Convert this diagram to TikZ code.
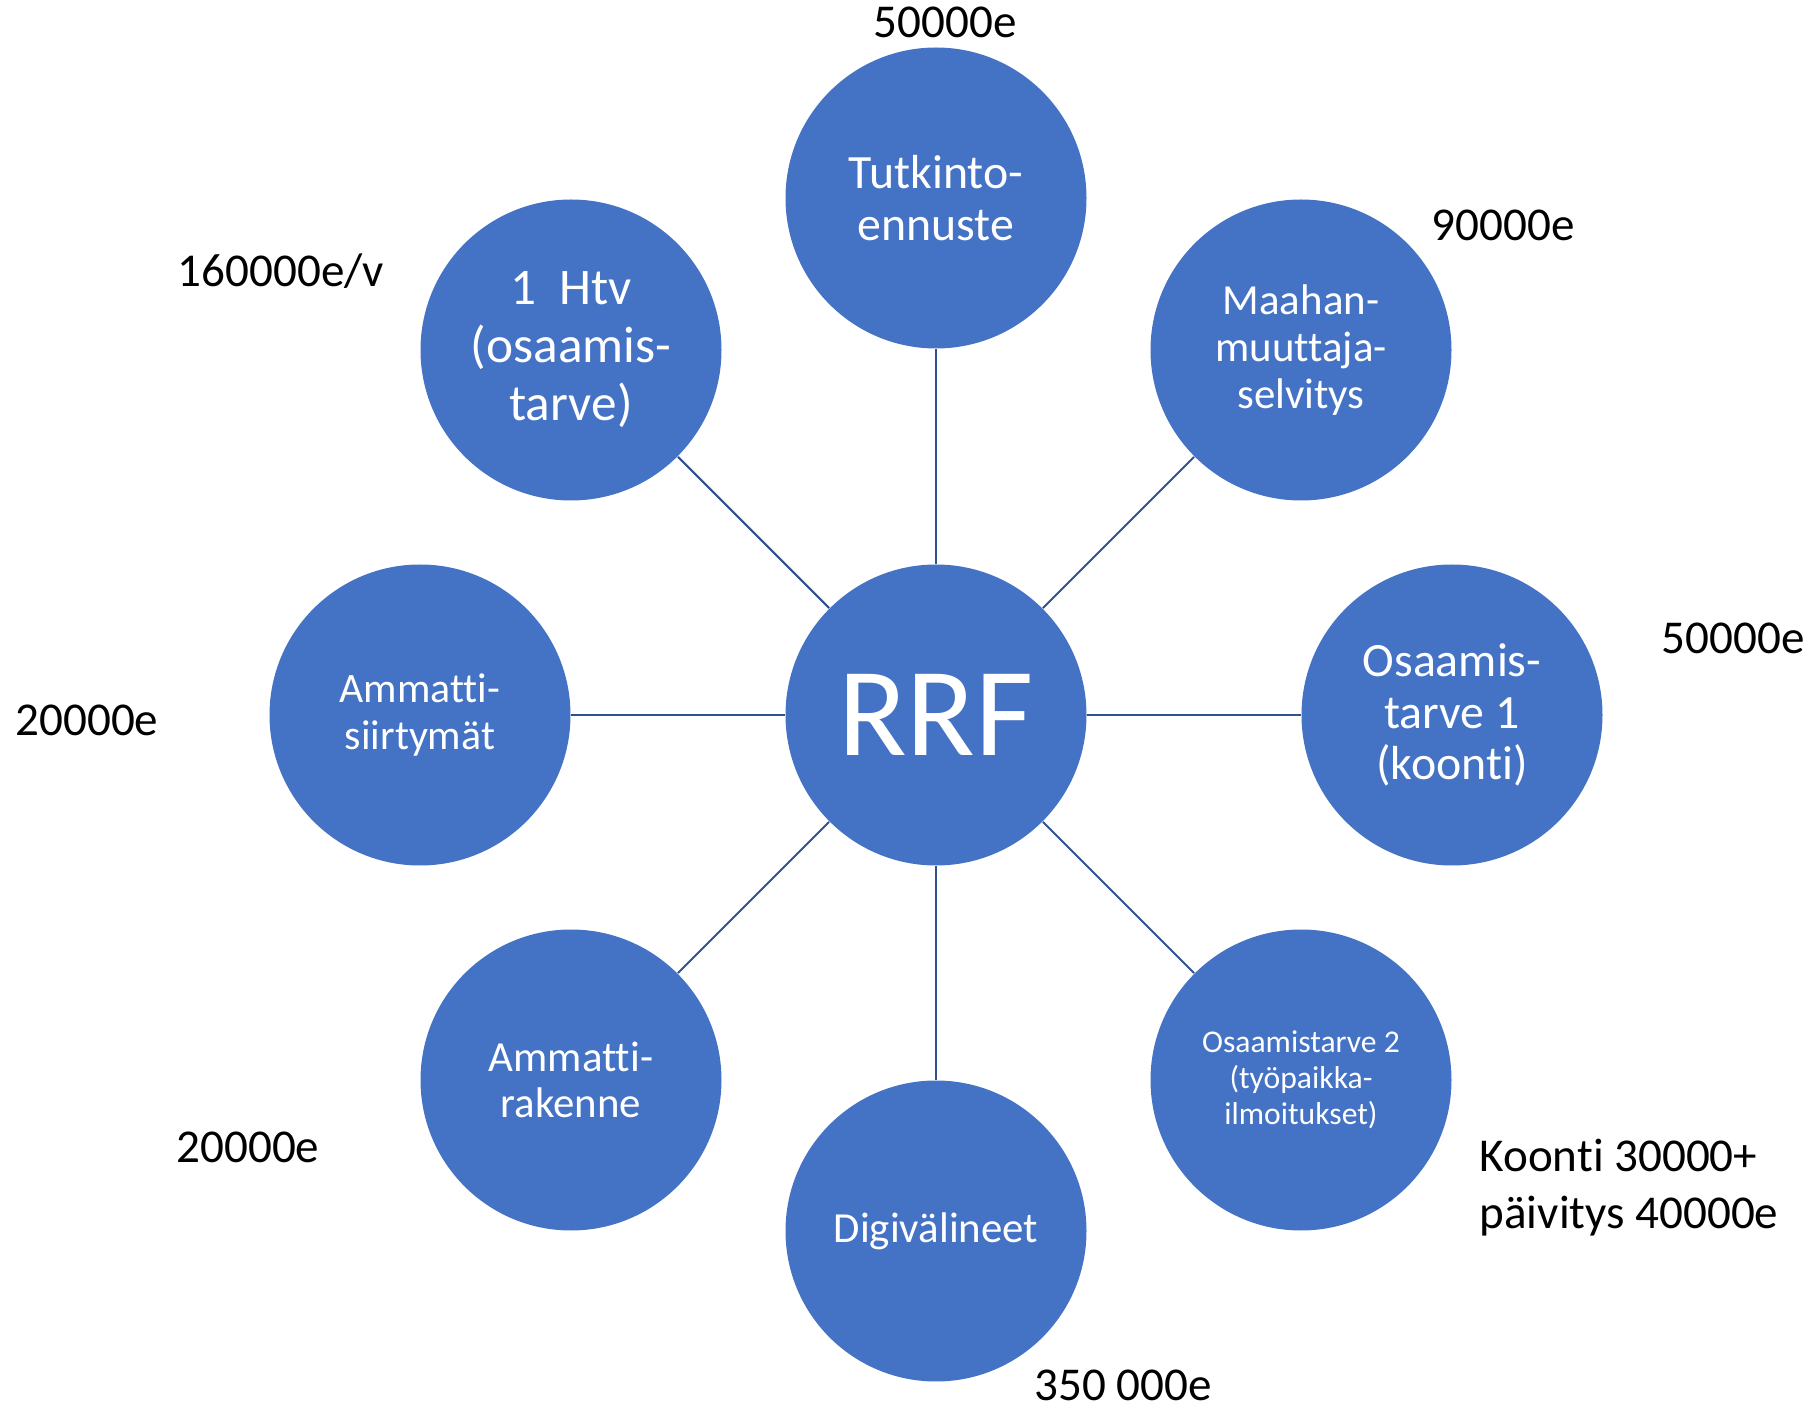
\documentclass[tikz,border=0pt]{standalone}
\usepackage{fontspec}
\setmainfont[RawFeature=-liga]{Carlito}
\usetikzlibrary{positioning}

\begin{document}
\begin{tikzpicture}[x=0.1mm, y=-0.1mm, font=\fontsize{13.4}{16.2}\selectfont]
    % Define local colors
    \definecolor{bubble}{RGB}{68, 114, 196}
    \definecolor{spoke}{RGB}{47, 82, 143}
    \tikzset{
        topic/.style={circle, fill=bubble, text=white, minimum size=3.01cm, inner sep=0pt, align=center},
        cost/.style={text=black, inner sep=0pt, align=left},
        link/.style={draw=spoke, line width=0.6pt},
    }
    \useasboundingbox (0,0) rectangle (1819,1408);

    % Hub
    \node[topic, font=\fontsize{36}{40}\selectfont] (rrf) at (936,715) {RRF};

    % Ring of topics
    \node[topic, font=\fontsize{13.6}{14.6}\selectfont] (tutk) at (936,198)  {Tutkinto-\\ennuste};
    \node[topic, font=\fontsize{12.2}{13.3}\selectfont] (maah) at (1301,350) {Maahan-\\muuttaja-\\selvitys};
    \node[topic, font=\fontsize{13.6}{14.6}\selectfont] (osa1) at (1452,715) {Osaamis-\\tarve 1\\(koonti)};
    \node[topic, font=\fontsize{9}{10.2}\selectfont]    (osa2) at (1301,1080) {Osaamistarve 2\\(työpaikka-\\ilmoitukset)};
    \node[topic, font=\fontsize{12.2}{13.3}\selectfont] (digi) at (936,1231) {Digivälineet};
    \node[topic, font=\fontsize{12.2}{12.9}\selectfont] (amra) at (571,1080) {Ammatti-\\rakenne};
    \node[topic, font=\fontsize{11.9}{13.2}\selectfont] (amsi) at (420,715)  {Ammatti-\\siirtymät};
    \node[topic, font=\fontsize{14.6}{16.5}\selectfont] (htv)  at (571,350)  {1\ \ Htv\\(osaamis-\\tarve)};

    % Spokes
    \foreach \n in {tutk, maah, osa1, osa2, digi, amra, amsi, htv} {
        \draw[link] (rrf) -- (\n);
    }

    % Costs
    \node[cost] (ctutk) at (945,22)   {50000e};
    \node[cost] (cmaah) at (1503,225) {90000e};
    \node[cost] (cosa1) at (1733,638) {50000e};
    \node[cost, anchor=west] (cosa2) at (1479,1188) {Koonti 30000+\\päivitys 40000e};
    \node[cost] (cdigi) at (1123,1385) {350 000e};
    \node[cost] (camra) at (248,1147) {20000e};
    \node[cost] (camsi) at (87,720)   {20000e};
    \node[cost] (chtv)  at (281,271)  {160000e/v};
\end{tikzpicture}
\end{document}
